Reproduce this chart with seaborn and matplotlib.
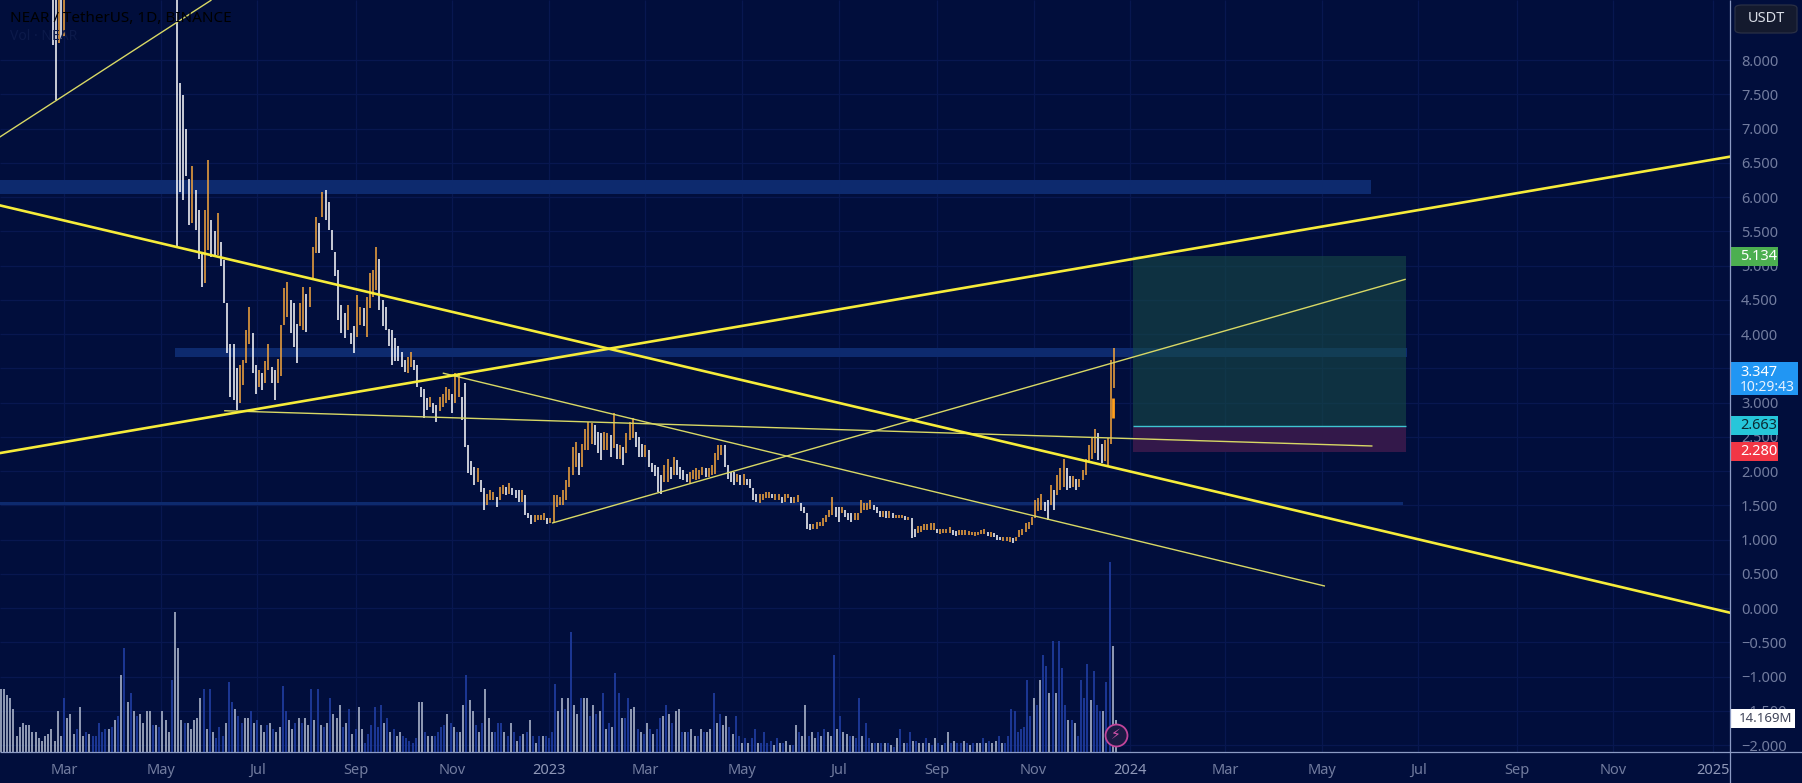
import pandas as pd
import seaborn as sns
import matplotlib
matplotlib.use('Agg')
import matplotlib.pyplot as plt
from matplotlib.lines import Line2D
from matplotlib.patches import Rectangle, FancyBboxPatch
from matplotlib.transforms import blended_transform_factory

BG = '#010e3c'
GRID = '#081750'
AXIS = '#8c9bc4'
TICK = '#727c9f'
UP = '#f7a73c'
DOWN = '#ffffff'
VOL_UP = '#1f3da0'
VOL_DOWN = '#a3adc4'
THICK = '#f6ec3a'
THIN = '#d8d865'

price_ticks = [8, 7.5, 7, 6.5, 6, 5.5, 5, 4.5, 4, 3.5, 3, 2.5, 2, 1.5, 1, 0.5, 0, -0.5, -1, -1.5, -2]
# label positions as they sit in the picture, the early ones are a couple of days ahead of the month start
month_dates = ['2022-02-27', '2022-04-29', '2022-06-29', '2022-08-30', '2022-10-30', '2022-12-30',
               '2023-03-01', '2023-05-01', '2023-07-01', '2023-09-01', '2023-11-01', '2024-01-01',
               '2024-03-01', '2024-05-01', '2024-07-01', '2024-09-01', '2024-11-01', '2025-01-03']
month_labels = ['Mar', 'May', 'Jul', 'Sep', 'Nov', '2023', 'Mar', 'May', 'Jul', 'Sep', 'Nov', '2024',
                'Mar', 'May', 'Jul', 'Sep', 'Nov', '2025']

# the few February 2022 candles that poke in from above the top of the chart
early_dates = ['2022-02-20', '2022-02-22', '2022-02-24', '2022-02-25', '2022-02-27']
early_highs = [10, 10, 10, 10, 10]
early_lows = [8.22, 7.42, 8.25, 8.3, 8.33]

# every second day from 2022-05-09
candle_start = '2022-05-09'
candle_highs = [
    10, 7.66, 7.49, 7.0, 6.27, 6.45, 6.1, 5.81, 5.18, 5.81, 6.54, 5.66, 5.5, 5.76, 5.35, 5.08, 4.45, 3.86, 3.86, 3.5,
    3.55, 3.62, 4.06, 4.4, 4.01, 3.55, 3.47, 3.43, 3.6, 3.86, 3.52, 3.47, 3.64, 4.13, 4.67, 4.76, 4.5, 4.45, 4.15, 4.45,
    4.69, 4.59, 4.69, 5.27, 5.71, 5.62, 6.08, 6.1, 5.93, 5.52, 5.2, 4.93, 4.42, 4.3, 4.42, 4.01, 4.11, 4.57, 4.4, 4.38,
    4.54, 4.89, 4.93, 5.27, 5.1, 4.5, 4.4, 4.08, 4.06, 3.94, 3.82, 3.74, 3.62, 3.67, 3.74, 3.62, 3.55, 3.23, 3.2, 3.06,
    3.08, 2.99, 2.96, 3.08, 3.13, 3.23, 3.2, 3.13, 3.43, 3.43, 3.08, 3.28, 2.38, 2.14, 2.06, 2.04, 1.87, 1.75, 1.67, 1.72,
    1.7, 1.62, 1.77, 1.8, 1.77, 1.82, 1.75, 1.72, 1.72, 1.72, 1.65, 1.38, 1.36, 1.36, 1.36, 1.36, 1.38, 1.31, 1.31, 1.65,
    1.65, 1.62, 1.72, 1.87, 2.06, 2.35, 2.43, 2.26, 2.4, 2.62, 2.72, 2.7, 2.67, 2.57, 2.55, 2.57, 2.55, 2.52, 2.84, 2.4,
    2.38, 2.35, 2.55, 2.72, 2.77, 2.57, 2.5, 2.4, 2.38, 2.3, 2.11, 2.09, 2.06, 1.94, 2.09, 2.18, 2.06, 2.2, 2.16, 2.06,
    2.01, 1.96, 1.99, 2.01, 2.04, 2.01, 2.06, 2.04, 2.04, 2.09, 2.26, 2.38, 2.38, 2.38, 2.09, 1.99, 1.99, 1.96, 1.94, 1.96,
    1.89, 1.89, 1.75, 1.67, 1.67, 1.67, 1.7, 1.7, 1.67, 1.67, 1.67, 1.62, 1.67, 1.67, 1.62, 1.62, 1.65, 1.53, 1.48, 1.38,
    1.23, 1.23, 1.26, 1.26, 1.31, 1.36, 1.43, 1.62, 1.48, 1.48, 1.48, 1.43, 1.38, 1.38, 1.38, 1.38, 1.58, 1.53, 1.53, 1.58,
    1.5, 1.48, 1.41, 1.41, 1.41, 1.41, 1.38, 1.36, 1.36, 1.36, 1.34, 1.33, 1.31, 1.16, 1.19, 1.19, 1.23, 1.23, 1.24, 1.24,
    1.16, 1.15, 1.15, 1.16, 1.18, 1.14, 1.12, 1.14, 1.14, 1.14, 1.12, 1.11, 1.11, 1.11, 1.14, 1.16, 1.11, 1.11, 1.1, 1.07,
    1.04, 1.04, 1.03, 1.03, 1.02, 1.04, 1.14, 1.16, 1.24, 1.26, 1.33, 1.58, 1.6, 1.67, 1.55, 1.58, 1.8, 1.72, 1.94, 2.04,
    2.18, 2.04, 1.92, 1.92, 1.89, 1.89, 2.01, 2.18, 2.38, 2.48, 2.61, 2.55, 2.4, 2.45, 2.48, 3.62, 3.79,
]
candle_lows = [
    5.27, 6.07, 5.96, 6.3, 5.59, 5.62, 5.52, 5.1, 4.69, 4.74, 5.22, 5.13, 5.15, 5.15, 5.0, 4.45, 3.72, 3.08, 3.04, 2.89,
    2.99, 3.26, 3.57, 3.86, 3.43, 3.13, 3.23, 3.18, 3.28, 3.47, 3.28, 3.04, 3.28, 3.38, 4.13, 4.25, 4.01, 3.81, 3.57, 4.11,
    4.06, 4.03, 4.4, 4.79, 5.18, 5.18, 5.71, 5.66, 5.52, 5.23, 4.84, 4.2, 4.01, 3.94, 4.06, 3.86, 3.72, 3.96, 4.13, 4.11,
    3.96, 4.38, 4.54, 4.64, 4.35, 4.11, 4.06, 3.82, 3.55, 3.6, 3.6, 3.52, 3.45, 3.43, 3.52, 3.47, 3.23, 3.08, 2.77, 2.89,
    2.94, 2.84, 2.72, 2.87, 2.94, 2.99, 3.04, 2.84, 2.99, 3.08, 2.74, 2.35, 1.97, 1.94, 1.8, 1.84, 1.7, 1.43, 1.5, 1.58,
    1.58, 1.48, 1.58, 1.67, 1.65, 1.67, 1.65, 1.6, 1.55, 1.55, 1.36, 1.31, 1.23, 1.26, 1.28, 1.28, 1.28, 1.22, 1.24, 1.26,
    1.48, 1.5, 1.5, 1.58, 1.77, 1.94, 2.06, 1.94, 2.06, 2.3, 2.3, 2.4, 2.38, 2.26, 2.16, 2.3, 2.3, 2.2, 2.33, 2.18,
    2.18, 2.09, 2.26, 2.45, 2.48, 2.35, 2.2, 2.2, 2.2, 2.06, 1.99, 1.92, 1.7, 1.67, 1.84, 1.84, 1.89, 1.94, 1.94, 1.89,
    1.87, 1.84, 1.82, 1.89, 1.87, 1.89, 1.94, 1.91, 1.91, 1.94, 1.96, 2.16, 2.23, 2.06, 1.89, 1.84, 1.79, 1.84, 1.79, 1.79,
    1.79, 1.75, 1.58, 1.55, 1.54, 1.58, 1.6, 1.6, 1.6, 1.58, 1.58, 1.53, 1.55, 1.6, 1.53, 1.53, 1.55, 1.41, 1.38, 1.16,
    1.14, 1.16, 1.16, 1.19, 1.19, 1.26, 1.33, 1.36, 1.33, 1.26, 1.38, 1.33, 1.28, 1.26, 1.28, 1.28, 1.38, 1.43, 1.43, 1.45,
    1.43, 1.38, 1.33, 1.33, 1.31, 1.31, 1.31, 1.31, 1.31, 1.31, 1.28, 1.28, 1.02, 1.04, 1.09, 1.11, 1.14, 1.14, 1.14, 1.14,
    1.09, 1.08, 1.09, 1.09, 1.1, 1.07, 1.05, 1.07, 1.07, 1.07, 1.07, 1.07, 1.05, 1.07, 1.08, 1.08, 1.05, 1.04, 1.03, 1.0,
    1.0, 0.98, 0.98, 0.97, 0.95, 0.98, 1.03, 1.07, 1.11, 1.16, 1.21, 1.31, 1.41, 1.43, 1.41, 1.28, 1.5, 1.43, 1.65, 1.72,
    1.77, 1.72, 1.75, 1.77, 1.72, 1.77, 1.87, 1.94, 2.14, 2.18, 2.26, 2.16, 2.11, 2.14, 2.09, 2.4, 3.21,
]
# the one fat candle body that stands out on the final run up
fat_body_date = '2023-12-21'
fat_body_low = 2.77
fat_body_high = 3.06

# volume in millions, every second day from 2022-01-18
volume_start = '2022-01-18'
volumes = [
    28, 28, 25, 24, 19, 7, 11, 13, 12, 12, 9, 9, 6, 5, 7, 8, 10, 5, 18, 7, 24, 15, 17, 8, 10, 20, 7, 9, 8, 7,
    7, 13, 9, 10, 10, 11, 14, 16, 34, 46, 22, 26, 18, 16, 17, 13, 18, 18, 12, 12, 11, 18, 14, 9, 32, 62, 46, 14,
    13, 13, 10, 14, 15, 24, 28, 10, 28, 9, 6, 11, 7, 13, 31, 22, 19, 16, 13, 15, 15, 18, 13, 14, 12, 9, 12, 13, 10, 9,
    11, 29, 18, 14, 10, 13, 15, 13, 15, 12, 28, 14, 28, 12, 11, 13, 24, 17, 15, 21, 11, 13, 19, 8, 10, 20, 10, 4, 8, 12, 20,
    11, 21, 13, 15, 9, 10, 7, 9, 7, 6, 5, 4, 6, 22, 22, 9, 7, 7, 7, 9, 11, 12, 17, 13, 11, 9, 9, 21, 34, 23,
    18, 12, 9, 13, 28, 15, 9, 9, 13, 13, 9, 7, 13, 9, 5, 7, 8, 9, 14, 7, 4, 7, 7, 7, 6, 9, 30, 18, 24, 19, 24,
    53, 21, 17, 24, 24, 24, 16, 21, 17, 18,
    26, 10, 13, 11, 35, 26, 15, 15, 24, 19, 20, 10, 9, 8, 13, 10, 8, 10, 15, 16, 21, 17, 13, 18, 19, 9, 9, 9, 10, 7,
    7, 10, 9, 9, 10, 26, 13, 17, 12, 16, 11, 8, 16, 7, 4, 6, 4, 6, 10, 4, 4, 9, 4, 5, 3, 6, 4, 4, 5, 3,
    3, 12, 9, 7, 21, 7, 9, 6, 9, 7, 10, 9, 7, 43, 10, 16, 9, 8, 7, 7, 6, 24, 7, 13, 6, 4, 4, 4, 4, 4,
    4, 3, 2, 6, 10, 4, 4, 9, 5, 5, 4, 4, 6, 4, 3, 6, 4, 3, 4, 9, 4, 5, 4, 4, 5, 4, 3, 4, 4, 4,
    6, 4, 5, 4, 5, 7, 4, 4, 7, 19, 18, 9, 10, 11, 32, 16, 24, 21, 32, 43, 38, 26, 49, 26, 49, 37, 21, 14, 14, 13,
    7, 32, 24, 39, 23, 36, 21, 18, 18, 31, 84, 47, 14,
]
# positions in volumes that are drawn blue (up days), the rest is grey
volume_up_at = [
    20, 24, 27, 29, 30, 31, 32, 33, 35, 37, 39, 41, 43, 48, 50, 54, 58, 64, 66, 68, 69, 70, 72, 73, 75, 76, 79, 81, 84,
    86, 89, 90, 93, 95, 98, 100, 102, 104, 108, 110, 112, 115, 116, 117, 118, 119, 120, 122, 124, 127, 128, 129, 130, 131,
    134, 137, 138, 139, 140, 142, 144, 147, 150, 152, 156, 157, 158, 160, 162, 164, 166, 168, 170, 172, 173, 174, 175,
    178, 180, 183, 186, 188, 190, 192, 194, 195, 197, 198, 201, 203, 205, 207, 208, 210, 212, 215, 217, 220, 222, 225,
    227, 230, 232, 233, 235, 237, 238, 240, 241, 242, 243, 245, 247, 250, 252, 255, 258, 260, 263, 265, 268, 270, 271,
    273, 274, 276, 278, 280, 282, 284, 286, 287, 289, 292, 294, 296, 298, 300, 302, 303, 305, 307, 310, 312, 315, 317,
    318, 319, 320, 321, 322, 323, 324, 325, 327, 329, 330, 332, 334, 335, 336, 338, 340, 341, 342, 343, 345, 346, 347,
    349, 350,
]

band_starts = ['2022-01-17', '2022-05-08', '2022-01-17']
band_ends = ['2024-06-01', '2024-06-24', '2024-06-21']
band_lows = [6.04, 3.66, 1.51]
band_highs = [6.25, 3.80, 1.55]

position_start = '2024-01-03'
position_end = '2024-06-23'
target_price = 5.134
entry_price = 2.663
stop_price = 2.280
last_price = 3.347
last_volume = 14.169

thick_starts = ['2022-01-17', '2022-01-17']
thick_ends = ['2025-01-14', '2025-01-14']
thick_from = [5.88, 2.26]
thick_to = [-0.07, 6.59]
thin_starts = ['2022-01-17', '2022-06-08', '2022-10-24', '2023-01-01']
thin_ends = ['2022-05-31', '2024-06-02', '2024-05-03', '2024-06-23']
thin_from = [6.87, 2.88, 3.43, 1.24]
thin_to = [8.876, 2.365, 0.32, 4.80]

sns.set_theme(style='darkgrid', rc={
    'figure.facecolor': BG, 'axes.facecolor': BG, 'grid.color': GRID, 'grid.linewidth': 0.9,
    'axes.edgecolor': BG, 'lines.solid_capstyle': 'butt',
})
plt.rcParams['font.family'] = ['Noto Sans', 'DejaVu Sans']


def draw_sticks(axis, dates, lows, highs, colors, width, order):
    rows = []
    for i, (day, low, high, color) in enumerate(zip(dates, lows, highs, colors)):
        rows.append({'date': day, 'value': low, 'stick': i, 'color': color})
        rows.append({'date': day, 'value': high, 'stick': i, 'color': color})
    frame = pd.DataFrame(rows)
    sns.lineplot(data=frame, x='date', y='value', hue='color', hue_order=order, palette={c: c for c in order},
                 units='stick', estimator=None, linewidth=width, legend=False, ax=axis, zorder=3)


def draw_segments(axis, starts, ends, start_values, end_values, color, width):
    rows = []
    for i, (a, b, p, q) in enumerate(zip(starts, ends, start_values, end_values)):
        rows.append({'date': pd.Timestamp(a), 'value': p, 'seg': i})
        rows.append({'date': pd.Timestamp(b), 'value': q, 'seg': i})
    frame = pd.DataFrame(rows)
    sns.lineplot(data=frame, x='date', y='value', units='seg', estimator=None, color=color, linewidth=width,
                 legend=False, ax=axis, zorder=4)


fig = plt.figure(figsize=(18.02, 7.83), dpi=100)
ax = fig.add_axes([0, 31 / 783, 1730 / 1802, 752 / 783])
ax_vol = ax.twinx()

for start, end, low, high in zip(band_starts, band_ends, band_lows, band_highs):
    ax.fill_between(pd.to_datetime([start, end]), low, high, color='#0d2a6e', linewidth=0, zorder=1)

box_dates = pd.to_datetime([position_start, position_end])
ax.fill_between(box_dates, entry_price, target_price, color='#174a45', alpha=0.6, linewidth=0, zorder=1.5)
ax.fill_between(box_dates, stop_price, entry_price, color='#33184a', linewidth=0, zorder=1.5)
sns.lineplot(x=box_dates, y=[entry_price, entry_price], color='#3fc4d2', linewidth=1.0, ax=ax, zorder=2)

candle_dates = pd.date_range(candle_start, periods=len(candle_highs), freq='2D')
candle_colors = []
for i in range(len(candle_highs)):
    mid = candle_highs[i] + candle_lows[i]
    before = candle_highs[i - 1] + candle_lows[i - 1] if i > 0 else mid + 1
    # flat stretches lean orange, they are about half and half in the picture
    candle_colors.append(UP if mid >= before - 0.02 else DOWN)
draw_sticks(ax, list(pd.to_datetime(early_dates)) + list(candle_dates), early_lows + candle_lows,
            early_highs + candle_highs, [DOWN, DOWN, UP, DOWN, UP] + candle_colors, 1.1, [DOWN, UP])
sns.lineplot(x=pd.to_datetime([fat_body_date, fat_body_date]), y=[fat_body_low, fat_body_high], color='#ff9f1c',
             linewidth=2.0, estimator=None, ax=ax, zorder=3.5)

draw_segments(ax, thin_starts, thin_ends, thin_from, thin_to, THIN, 1.0)
draw_segments(ax, thick_starts, thick_ends, thick_from, thick_to, THICK, 1.9)

volume_dates = pd.date_range(volume_start, periods=len(volumes), freq='2D')
volume_colors = [VOL_UP if i in volume_up_at else VOL_DOWN for i in range(len(volumes))]
draw_sticks(ax_vol, volume_dates, [0] * len(volumes), volumes, volume_colors, 1.25, [VOL_UP, VOL_DOWN])
ax_vol.set_ylim(0, 332.7)
ax_vol.axis('off')

ax.set_xlim(pd.Timestamp('2022-01-17 12:00'), pd.Timestamp('2025-01-13 17:00'))
ax.set_ylim(-2.102, 8.876)
ax.yaxis.tick_right()
ax.set_yticks(price_ticks)
ax.set_yticklabels([f'{v:.3f}'.replace('-', '\u2212') for v in price_ticks], color=TICK, fontsize=10.5)
ax.set_xticks(pd.to_datetime(month_dates))
ax.set_xticklabels(month_labels, color=TICK, fontsize=10.5)
for label in ax.get_xticklabels():
    if label.get_text().startswith('20'):
        label.set_fontweight('bold')
        label.set_color('#8f98b8')
ax.tick_params(axis='both', length=0, pad=8)
ax.set_xlabel('')
ax.set_ylabel('')
for spine in ax.spines.values():
    spine.set_visible(False)

fig.add_artist(Line2D([1730 / 1802, 1730 / 1802], [0, 1], color=AXIS, linewidth=0.9))
fig.add_artist(Line2D([0, 1], [31 / 783, 31 / 783], color=AXIS, linewidth=0.9))

side = blended_transform_factory(ax.transAxes, ax.transData)


def badge(value, text, face, ink, width_px, height_px=19):
    half = height_px / 2 / 68.5
    ax.add_patch(Rectangle((1, value - half), width_px / 1730, 2 * half, transform=side, clip_on=False,
                           facecolor=face, edgecolor='none', zorder=8))
    ax.text(1 + 10 / 1730, value, text, transform=side, color=ink, fontsize=10.5, va='center', ha='left',
            clip_on=False, zorder=9)


badge(target_price, f'{target_price:.3f}', '#4caf50', '#ffffff', 48)
badge(entry_price, f'{entry_price:.3f}', '#26c6da', '#0b2a33', 48)
badge(stop_price, f'{stop_price:.3f}', '#f23645', '#ffffff', 48)

# two line badge for the last price and the countdown
ax.add_patch(Rectangle((1, last_price - 0.24), 68 / 1730, 0.49, transform=side, clip_on=False,
                       facecolor='#2196f3', edgecolor='none', zorder=8))
ax.text(1 + 10 / 1730, last_price + 0.09, f'{last_price:.3f}', transform=side, color='#ffffff', fontsize=10.5,
        va='center', clip_on=False, zorder=9)
ax.text(1 + 10 / 1730, last_price - 0.13, '10:29:43', transform=side, color='#e6f2ff', fontsize=10,
        va='center', clip_on=False, zorder=9)

# volume badge sits on the volume scale, 2.26 px per million above the baseline
volume_price = -2.102 + last_volume * 2.26 / 68.5 + 0.02
ax.add_patch(Rectangle((1, volume_price - 0.14), 65 / 1730, 0.28, transform=side, clip_on=False,
                       facecolor='#ffffff', edgecolor='none', zorder=8))
ax.text(1 + 9 / 1730, volume_price, f'{last_volume:.3f}M', transform=side, color='#40455a', fontsize=9.5,
        va='center', clip_on=False, zorder=9)

fig.add_artist(FancyBboxPatch((1735 / 1802, 1 - 33 / 783), 62 / 1802, 28 / 783, transform=fig.transFigure,
                              boxstyle='round,pad=0,rounding_size=0.004', facecolor='#141a2e', edgecolor='#2a3045',
                              linewidth=0.9))
fig.text(1766 / 1802, 1 - 19 / 783, 'USDT', color='#d8dce6', fontsize=10.5, ha='center', va='center')

fig.text(10 / 1802, 1 - 18 / 783, 'NEAR / TetherUS, 1D, BINANCE', color='#000000', fontsize=11, fontweight='bold',
         va='center')
fig.text(10 / 1802, 1 - 37 / 783, 'Vol \u00b7 NEAR', color='#0c1a4a', fontsize=10, va='center')

bolt_day = pd.Timestamp('2023-12-23')
ax_vol.scatter([bolt_day], [7.4], s=250, facecolor='#1c1a44', edgecolor='#c2459a', linewidth=1.3, zorder=10)
ax_vol.text(bolt_day, 7.4, '\u26a1', color='#d653ad', fontsize=10, ha='center', va='center',
            family=['DejaVu Sans'], zorder=11)

fig.savefig('out.png', dpi=100, facecolor=BG)
